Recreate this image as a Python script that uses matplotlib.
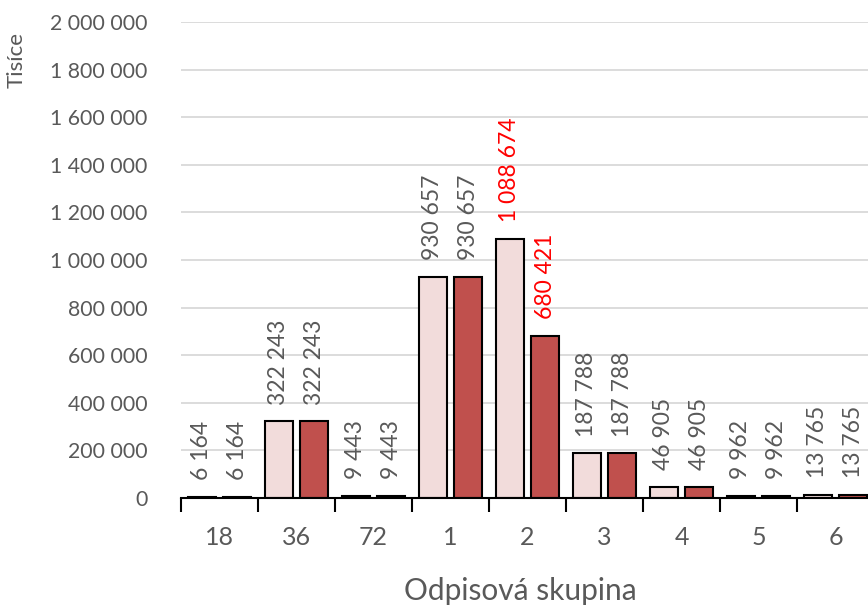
import numpy as np
import matplotlib.pyplot as plt
from matplotlib.ticker import FuncFormatter, FixedLocator

plt.rcParams['font.family'] = ['Lato', 'DejaVu Sans']

skupiny = ['18', '36', '72', '1', '2', '3', '4', '5', '6']
rada_a = [6164, 322243, 9443, 930657, 1088674, 187788, 46905, 9962, 13765]
rada_b = [6164, 322243, 9443, 930657, 680421, 187788, 46905, 9962, 13765]
zvyraznit = ['2']

gray = '#595959'


def fmt(v, pos=None):
    return '{:,}'.format(int(v)).replace(',', ' ')


x = np.arange(len(skupiny))
w = 0.36
off = 0.23

fig = plt.figure(figsize=(8.68, 6.06), dpi=100)
ax = fig.add_axes([181 / 868, 108 / 606, 693 / 868, 476 / 606])

b1 = ax.bar(x - off, rada_a, w, color='#F2DCDB', edgecolor='black', linewidth=1.5, zorder=3)
b2 = ax.bar(x + off, rada_b, w, color='#C0504D', edgecolor='black', linewidth=1.5, zorder=3)

for bars, vals in ((b1, rada_a), (b2, rada_b)):
    for rect, v, cat in zip(bars, vals, skupiny):
        c = 'red' if cat in zvyraznit else gray
        ax.annotate(fmt(v), (rect.get_x() + rect.get_width() / 2, v),
                    xytext=(0, 12), textcoords='offset points',
                    rotation=90, ha='center', va='bottom',
                    fontsize=16.5, color=c, clip_on=False)

ax.set_xlim(-0.5, len(skupiny) - 0.5)
ax.set_ylim(0, 2000000)
ax.set_yticks(np.arange(0, 2000001, 200000))
ax.yaxis.set_major_formatter(FuncFormatter(fmt))
ax.tick_params(axis='y', length=0, pad=24, labelsize=15.3, labelcolor=gray)
ax.grid(axis='y', color='#D9D9D9', linewidth=1.3, zorder=0)

ax.set_xticks(x)
ax.set_xticklabels(skupiny)
ax.xaxis.set_minor_locator(FixedLocator(np.arange(-0.5, len(skupiny), 1.0)))
ax.tick_params(axis='x', which='major', length=0, pad=20, labelsize=18, labelcolor=gray)
ax.tick_params(axis='x', which='minor', length=10, width=1.5, color='black', direction='out')

for s in ['top', 'right', 'left']:
    ax.spines[s].set_visible(False)
ax.spines['bottom'].set_linewidth(1.5)
ax.spines['bottom'].set_zorder(4)

ax.set_xlabel('Odpisová skupina', fontsize=21.5, color=gray, labelpad=18)
ax.xaxis.set_label_coords(0.49, -0.165)
fig.text(17 / 868, 1 - 60 / 606, 'Tisíce', rotation=90, ha='center', va='center',
         fontsize=16, color=gray)

fig.savefig('out.png', dpi=100)
